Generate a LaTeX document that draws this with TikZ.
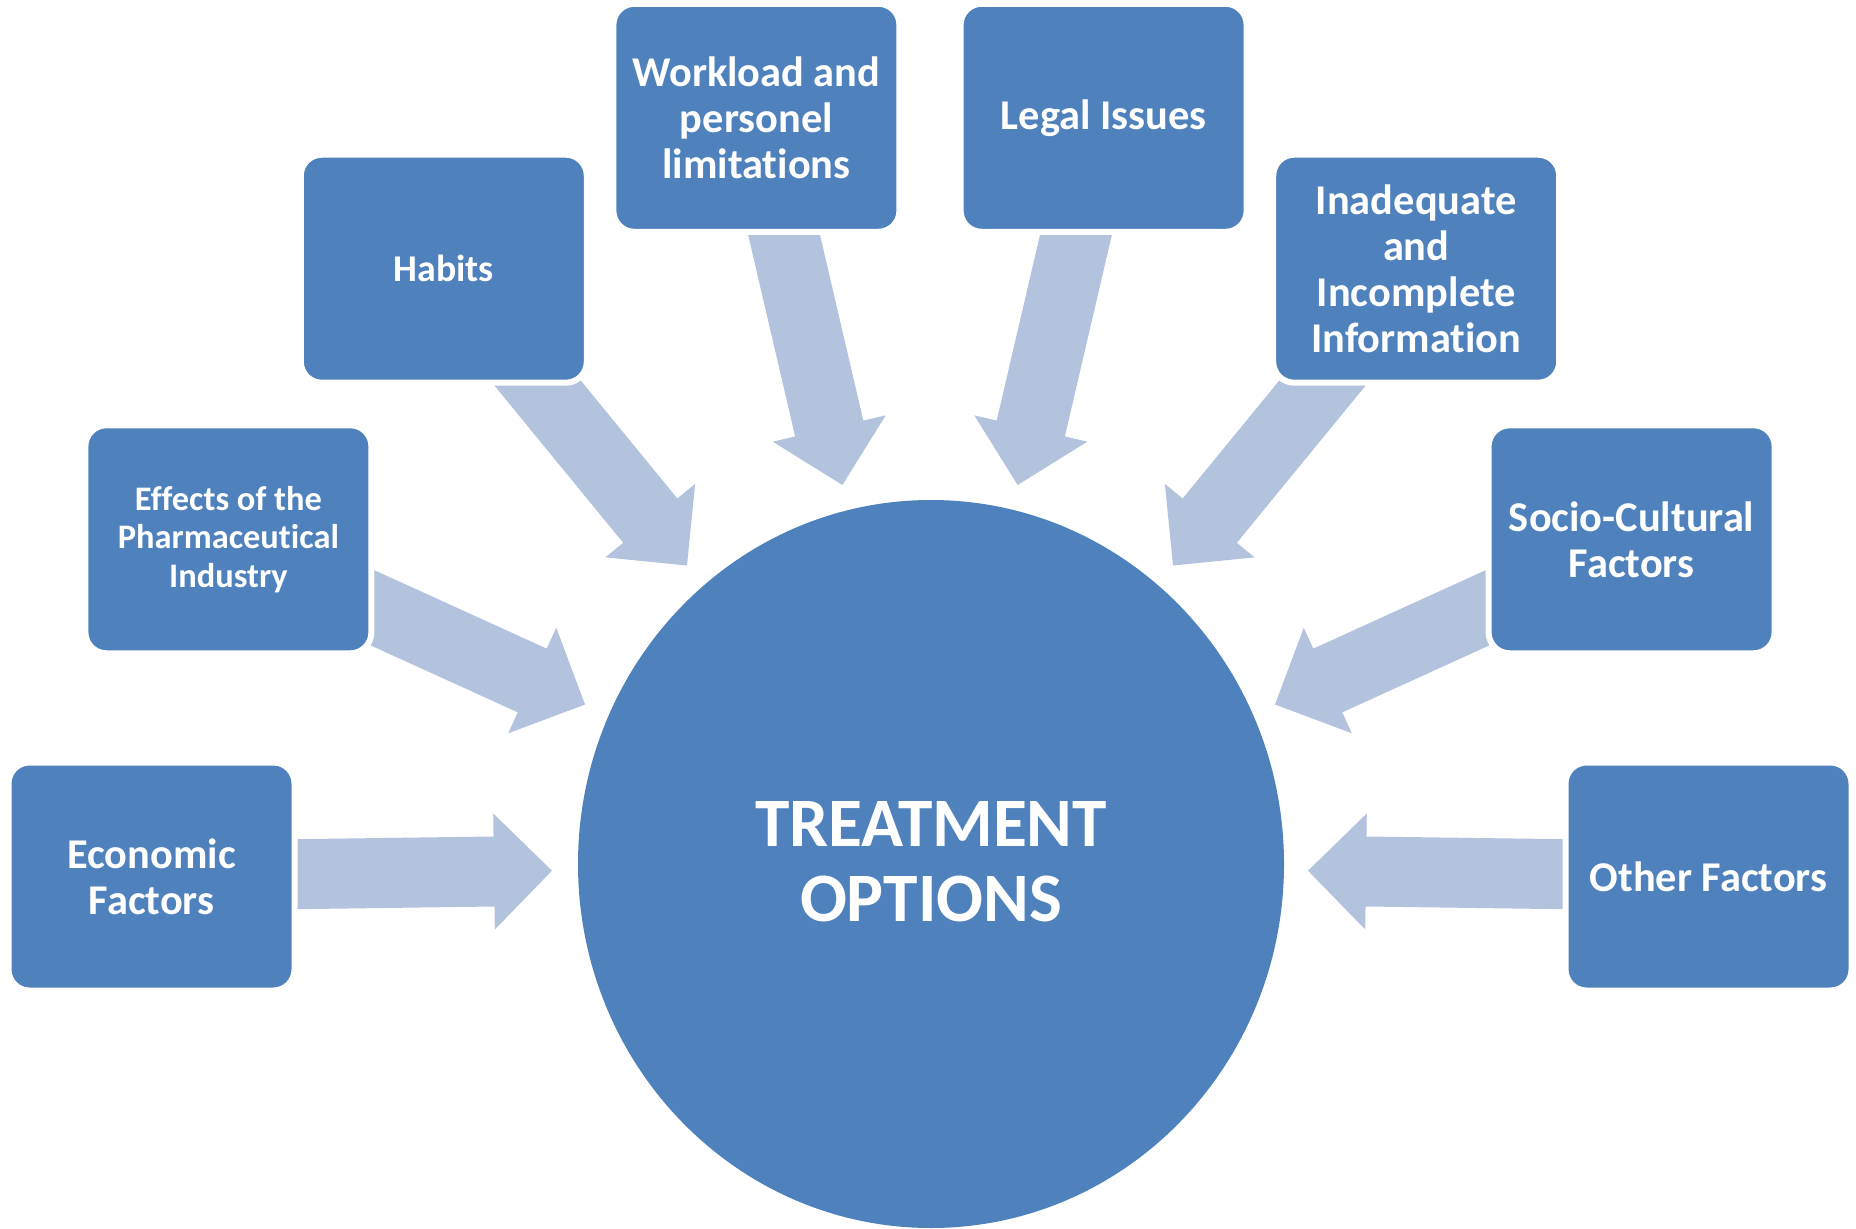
\documentclass[tikz,border=0pt]{standalone}
\usepackage{fontspec}
\setmainfont{Carlito}[Ligatures=NoCommon]
\usetikzlibrary{calc,shapes.geometric}
\definecolor{boxblue}{HTML}{4F81BD}
\definecolor{arrblue}{HTML}{B3C2DD}
\newcommand\blockarr[2]{%
  \coordinate (ab) at ($(#2)!29pt!(#1)$);
  \fill[arrblue] ($(#1)!17.5pt!90:(#2)$) -- ($(ab)!17.5pt!90:(#2)$) -- ($(ab)!29pt!90:(#2)$) -- (#2)
    -- ($(ab)!29pt!-90:(#2)$) -- ($(ab)!17.5pt!-90:(#2)$) -- ($(#1)!17.5pt!-90:(#2)$) -- cycle;}
\begin{document}
\begin{tikzpicture}[x=0.5pt,y=-0.5pt,
  factor/.style={rectangle, rounded corners=10.5pt, fill=boxblue, draw=white, line width=3pt,
    minimum width=143pt, minimum height=114pt, inner sep=0pt, align=center, text=white,
    font=\bfseries\fontsize{21.2}{23}\selectfont},
  smallfactor/.style={factor, font=\bfseries\fontsize{17.2}{19.3}\selectfont},
  habfactor/.style={factor, font=\bfseries\fontsize{18.9}{23}\selectfont},
  hub/.style={ellipse, fill=boxblue, draw=none, minimum width=353pt, minimum height=364pt, inner sep=0pt},
  hubtext/.style={align=center, text=white, inner sep=0pt, font=\bfseries\fontsize{34.7}{37.3}\selectfont}]
\useasboundingbox (0,0) rectangle (1856,1229);
% arrow end points
\coordinate (econT) at (200,875.5);   \coordinate (econH) at (552,870.7);
\coordinate (othT)  at (1660,875.5);  \coordinate (othH)  at (1308,870.7);
\coordinate (effT)  at (340,593);     \coordinate (effH)  at (585,704.5);
\coordinate (socT)  at (1520,593);    \coordinate (socH)  at (1275,704.5);
\coordinate (habT)  at (497,333.5);   \coordinate (habH)  at (687,565.5);
\coordinate (inaT)  at (1363,333.5);  \coordinate (inaH)  at (1173,565.5);
\coordinate (wrkT)  at (774.3,193);   \coordinate (wrkH)  at (842.4,485);
\coordinate (legT)  at (1085.7,193);  \coordinate (legH)  at (1017.6,485);
% arrows
\blockarr{econT}{econH}
\blockarr{othT}{othH}
\blockarr{effT}{effH}
\blockarr{socT}{socH}
\blockarr{habT}{habH}
\blockarr{inaT}{inaH}
\blockarr{wrkT}{wrkH}
\blockarr{legT}{legH}
% boxes
\node[factor] (econ) at (151.5,876.5) {Economic\\Factors};
\node[smallfactor] (eff) at (228.4,539.3) {Effects of the\\Pharmaceutical\\Industry};
\node[habfactor] (hab) at (443.8,268.7) {Habits};
\node[factor] (wrk) at (756.4,117.8) {Workload and\\personel\\limitations};
\node[factor] (leg) at (1103.6,117.8) {Legal Issues};
\node[factor] (ina) at (1416.2,268.7) {Inadequate\\and\\Incomplete\\Information};
\node[factor] (soc) at (1631.6,539.3) {Socio-Cultural\\Factors};
\node[factor] (oth) at (1708.5,876.5) {Other Factors};
% hub
\node[hub] (tc) at (931,864) {};
\node[hubtext] (tclabel) at (931,862) {TREATMENT\\OPTIONS};
\end{tikzpicture}
\end{document}
